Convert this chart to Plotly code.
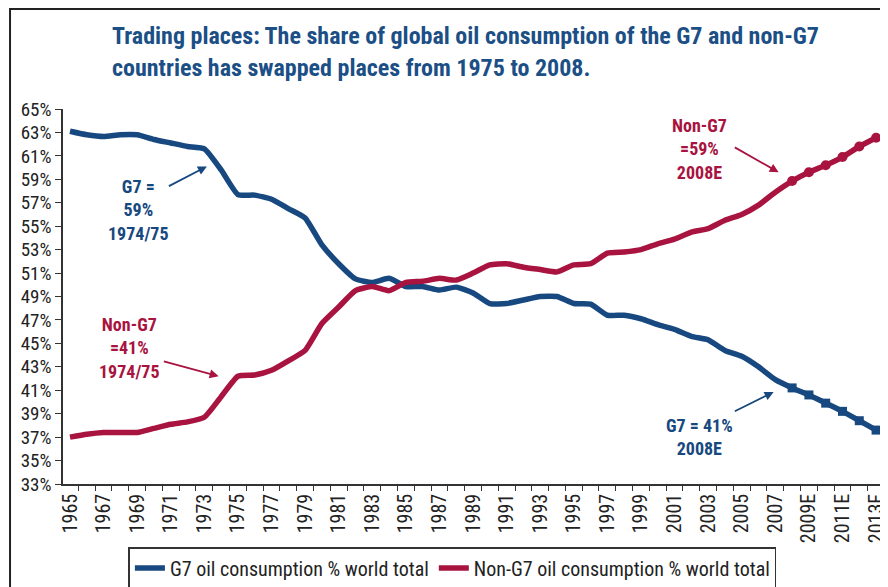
import plotly.graph_objects as go

# years on the category axis (last five are estimates)
years = [str(y) for y in range(1965, 2009)] + ["2009E", "2010E", "2011E", "2012E", "2013E"]

# share of world oil consumption, %
g7_share = [63.1, 62.8, 62.65, 62.8, 62.8, 62.4, 62.1, 61.8, 61.6, 59.8,
            57.7, 57.65, 57.3, 56.5, 55.7, 53.4, 51.8, 50.5, 50.2, 50.55,
            49.85, 49.85, 49.55, 49.8, 49.3, 48.4, 48.4, 48.7, 49.0, 49.0,
            48.4, 48.35, 47.4, 47.4, 47.1, 46.6, 46.2, 45.6, 45.3, 44.4,
            43.9, 43.0, 41.9, 41.2, 40.6, 39.9, 39.2, 38.4, 37.6]
non_g7_share = [37.0, 37.25, 37.4, 37.4, 37.4, 37.75, 38.1, 38.3, 38.7, 40.45,
                42.2, 42.3, 42.7, 43.5, 44.4, 46.7, 48.1, 49.5, 49.85, 49.5,
                50.2, 50.3, 50.55, 50.4, 51.0, 51.7, 51.8, 51.5, 51.3, 51.1,
                51.7, 51.8, 52.7, 52.8, 53.0, 53.5, 53.9, 54.5, 54.8, 55.5,
                56.0, 56.8, 57.9, 58.85, 59.6, 60.2, 60.9, 61.8, 62.55]
first_marked = years.index("2008")

y_ticks = list(range(33, 66, 2))
x_ticktext = [y if i % 2 == 0 else "" for i, y in enumerate(years)]

BLUE = "#17487f"
RED = "#a8133f"
FONT = "Liberation Sans Narrow, Roboto Condensed, Arial Narrow, Liberation Sans, sans-serif"

fig = go.Figure()
fig.add_trace(go.Scatter(x=years, y=g7_share, mode="lines", name="G7 oil consumption % world total",
                         line=dict(color=BLUE, width=5.5, shape="spline", smoothing=0.5)))
fig.add_trace(go.Scatter(x=years, y=non_g7_share, mode="lines", name="Non-G7 oil consumption % world total",
                         line=dict(color=RED, width=5.5, shape="spline", smoothing=0.5)))
# estimate markers
fig.add_trace(go.Scatter(x=years[first_marked:], y=g7_share[first_marked:], mode="markers", showlegend=False,
                         marker=dict(color=BLUE, symbol="square", size=9)))
fig.add_trace(go.Scatter(x=years[first_marked:], y=non_g7_share[first_marked:], mode="markers", showlegend=False,
                         marker=dict(color=RED, symbol="circle", size=10)))

# text annotations
notes = [
    ("G7 =<br>59%<br>1974/75", 4.1, 56.4, BLUE),
    ("Non-G7<br>=41%<br>1974/75", 3.55, 44.6, RED),
    ("Non-G7<br>=59%<br>2008E", 37.5, 61.6, RED),
    ("G7 = 41%<br>2008E", 37.5, 37.0, BLUE),
]
for txt, xx, yy, col in notes:
    fig.add_annotation(x=xx, y=yy, text="<b>" + txt + "</b>", showarrow=False,
                       font=dict(family=FONT, size=18, color=col), align="center")

# arrows: (head x, head y, tail x, tail y, colour)
arrows = [
    (8.15, 60.1, 5.8, 58.35, BLUE),
    (8.85, 42.2, 5.5, 43.5, RED),
    (42.2, 59.6, 39.5, 61.8, RED),
    (41.9, 40.85, 39.5, 39.15, BLUE),
]
for hx, hy, tx, ty, col in arrows:
    fig.add_annotation(x=hx, y=hy, ax=tx, ay=ty, axref="x", ayref="y", text="",
                       showarrow=True, arrowhead=2, arrowsize=1, arrowwidth=1.8, arrowcolor=col)

# outer frame
fig.add_shape(type="rect", xref="paper", yref="paper", x0=-0.0642, y0=-0.4, x1=1.2, y1=1.2667,
              line=dict(color="#222", width=2), layer="below")

# the page body adds an 8px margin, so the figure itself is 880x579
fig.update_layout(
    width=880, height=579,
    margin=dict(l=55, r=0, t=101, b=103, autoexpand=False),
    paper_bgcolor="white", plot_bgcolor="white",
    font=dict(family=FONT, size=15, color="#222"),
    title=dict(text="<b>Trading places: The share of global oil consumption of the G7 and non-G7<br>"
                    "countries has swapped places from 1975 to 2008.</b>",
               x=0.0594, xref="paper", xanchor="left", y=0.937, yanchor="top",
               font=dict(family=FONT, size=24, color="#1b4f86")),
    showlegend=True,
    legend=dict(orientation="h", x=0.472, xanchor="center", y=-0.168, yanchor="top",
                bordercolor="#333", borderwidth=1.5, bgcolor="white",
                font=dict(family=FONT, size=20, color="#222"), itemwidth=30),
    xaxis=dict(type="category", tickmode="array", tickvals=years, ticktext=x_ticktext,
               tickangle=-90, tickson="boundaries", ticks="outside", ticklen=5,
               tickcolor="#333", showline=True, linecolor="#333", linewidth=1.5,
               showgrid=False, range=[-0.417, 48.71], tickfont=dict(size=20), automargin=False),
    yaxis=dict(range=[33, 65], tickmode="array", tickvals=y_ticks,
               ticktext=[f"{v}%" for v in y_ticks], ticks="outside", ticklen=6,
               tickcolor="#333", showline=True, linecolor="#333", linewidth=1.5,
               showgrid=False, zeroline=False, tickfont=dict(size=19), automargin=False),
)

fig.write_html("out.html")
